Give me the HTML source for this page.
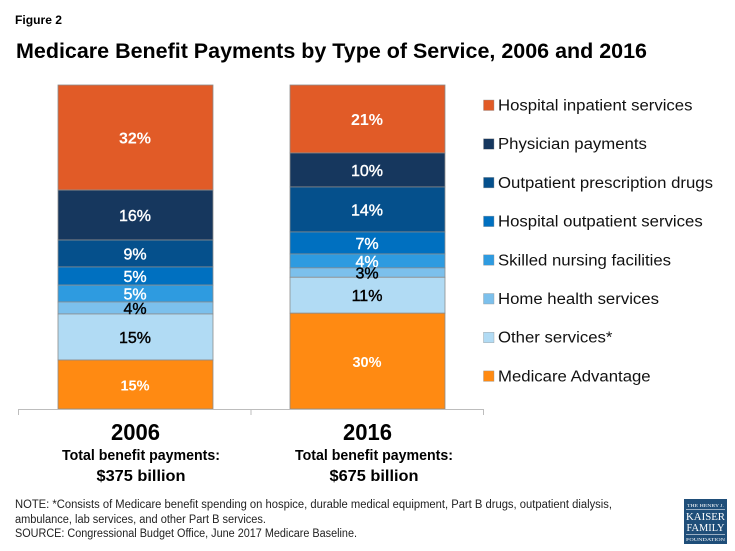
<!DOCTYPE html>
<html lang="en">
<head>
<meta charset="utf-8">
<title>Medicare Benefit Payments by Type of Service, 2006 and 2016</title>
<style>
html,body{margin:0;padding:0;background:#fff;width:735px;height:551px;overflow:hidden}
svg{display:block}
text{font-family:"Liberation Sans",sans-serif}
</style>
</head>
<body>
<svg id="chart" xmlns="http://www.w3.org/2000/svg" width="735" height="551" viewBox="0 0 735 551">
  <rect width="735" height="551" fill="#ffffff"/>
  <text x="15" y="24" font-size="12" font-weight="700" fill="#000" textLength="47" lengthAdjust="spacingAndGlyphs">Figure 2</text>
  <text x="16" y="58" font-size="21.5" font-weight="700" fill="#000" textLength="631" lengthAdjust="spacingAndGlyphs">Medicare Benefit Payments by Type of Service, 2006 and 2016</text>
  <g id="bars"></g>
  <g id="axis"></g>
  <g id="legend"></g>
  <text x="141" y="460" text-anchor="middle" font-size="14.5" font-weight="700" fill="#000" textLength="158" lengthAdjust="spacingAndGlyphs">Total benefit payments:</text>
  <text x="141" y="481" text-anchor="middle" font-size="16" font-weight="700" fill="#000" textLength="89" lengthAdjust="spacingAndGlyphs">$375 billion</text>
  <text x="374" y="460" text-anchor="middle" font-size="14.5" font-weight="700" fill="#000" textLength="158" lengthAdjust="spacingAndGlyphs">Total benefit payments:</text>
  <text x="374" y="481" text-anchor="middle" font-size="16" font-weight="700" fill="#000" textLength="89" lengthAdjust="spacingAndGlyphs">$675 billion</text>
  <text x="15" y="508" font-size="11.5" fill="#222" textLength="597" lengthAdjust="spacingAndGlyphs">NOTE: *Consists of Medicare benefit spending on hospice, durable medical equipment, Part B drugs, outpatient dialysis,</text>
  <text x="15" y="523" font-size="11.5" fill="#222" textLength="251" lengthAdjust="spacingAndGlyphs">ambulance, lab services, and other Part B services.</text>
  <text x="15" y="537" font-size="11.5" fill="#222" textLength="342" lengthAdjust="spacingAndGlyphs">SOURCE: Congressional Budget Office, June 2017 Medicare Baseline.</text>
  <g>
    <rect x="684" y="499" width="43" height="45" fill="#1f4e79"/>
    <text x="705.5" y="507" text-anchor="middle" font-size="4.5" fill="#fff" style="font-family:'Liberation Serif',serif" textLength="37" lengthAdjust="spacingAndGlyphs">THE HENRY J.</text>
    <rect x="686" y="509" width="39" height="0.7" fill="#cfd9e5"/>
    <text x="705.5" y="520" text-anchor="middle" font-size="10.5" fill="#fff" style="font-family:'Liberation Serif',serif" textLength="39" lengthAdjust="spacingAndGlyphs">KAISER</text>
    <text x="705.5" y="531" text-anchor="middle" font-size="10.5" fill="#fff" style="font-family:'Liberation Serif',serif" textLength="38" lengthAdjust="spacingAndGlyphs">FAMILY</text>
    <rect x="686" y="534" width="39" height="0.7" fill="#cfd9e5"/>
    <text x="705.5" y="541" text-anchor="middle" font-size="4.5" fill="#fff" style="font-family:'Liberation Serif',serif" textLength="39" lengthAdjust="spacingAndGlyphs">FOUNDATION</text>
  </g>
</svg>
<script>
var categories = ['2006', '2016'];
var seriesNames = ['Hospital inpatient services', 'Physician payments', 'Outpatient prescription drugs', 'Hospital outpatient services', 'Skilled nursing facilities', 'Home health services', 'Other services*', 'Medicare Advantage'];
var values2006 = [32.4, 15.4, 8.3, 5.6, 5.2, 3.7, 14.2, 15.1];
var values2016 = [21.0, 10.5, 13.9, 6.8, 4.3, 2.9, 11.1, 29.6];
var labels2006 = ['32%', '16%', '9%', '5%', '5%', '4%', '15%', '15%'];
var labels2016 = ['21%', '10%', '14%', '7%', '4%', '3%', '11%', '30%'];

var seriesColors = ['#e15b27', '#16375e', '#05508c', '#0070c0', '#2e9be0', '#7cc0ec', '#b1dbf4', '#ff8a12'];
var labelColors = ['#fff', '#fff', '#fff', '#fff', '#fff', '#000', '#000', '#fff'];
var NS = 'http://www.w3.org/2000/svg';
var plotBottom = 409, plotHeight = 324, barWidth = 155;
function yScale(cumulative) { return plotBottom - cumulative / 100 * plotHeight; }
function xScale(index) { return 135.5 + index * 232; }
function make(parent, tag, attrs, txt) {
  var el = document.createElementNS(NS, tag);
  for (var k in attrs) el.setAttribute(k, attrs[k]);
  if (txt !== undefined) el.textContent = txt;
  parent.appendChild(el);
  return el;
}
var barsGroup = document.getElementById('bars');
var axisGroup = document.getElementById('axis');
var legendGroup = document.getElementById('legend');
var allValues = [values2006, values2016];
var allLabels = [labels2006, labels2016];

categories.forEach(function (cat, c) {
  var vals = allValues[c];
  var total = vals.reduce(function (a, b) { return a + b; }, 0);
  var cum = total;
  vals.forEach(function (v, s) {
    var top = yScale(cum / total * 100);
    var bot = yScale((cum - v) / total * 100);
    cum -= v;
    var r = make(barsGroup, 'rect', {
      x: xScale(c) - barWidth / 2, y: top, width: barWidth, height: bot - top,
      fill: seriesColors[s], stroke: '#8c8c8c', 'stroke-width': 0.8
    });
    
    
  });
  cum = total;
  vals.forEach(function (v, s) {
    var top = yScale(cum / total * 100);
    var bot = yScale((cum - v) / total * 100);
    cum -= v;
    var isBold = s === 7 || s === 0;
    var t = make(barsGroup, 'text', {
      x: xScale(c) - 0.5, y: (top + bot) / 2 + 6, 'text-anchor': 'middle',
      'font-size': s === 7 ? 14.5 : 16, 'font-weight': isBold ? 700 : 400, fill: labelColors[s],
      stroke: isBold ? 'none' : labelColors[s], 'stroke-width': 0.4
    }, allLabels[c][s]);
    
    
  });
  var yearLabel = make(axisGroup, 'text', {
    x: xScale(c), y: 440, 'text-anchor': 'middle', 'font-size': 23, 'font-weight': 700, fill: '#000',
    textLength: 49, lengthAdjust: 'spacingAndGlyphs'
  }, cat);
  
  
});

var axisLine = make(axisGroup, 'line', { x1: 18, x2: 483.5, y1: plotBottom + 0.5, y2: plotBottom + 0.5, stroke: '#bdbdbd', 'stroke-width': 1 });


[0, 1, 2].forEach(function (i) {
  var tx = 18.5 + i * 232.5;
  var tick = make(axisGroup, 'line', { x1: tx, x2: tx, y1: plotBottom, y2: plotBottom + 6, stroke: '#bdbdbd', 'stroke-width': 1 });
  
  
});

seriesNames.forEach(function (name, s) {
  var cy = 105 + s * 38.7;
  var sw = make(legendGroup, 'rect', { x: 483.5, y: cy - 5, width: 10.5, height: 10.5, fill: seriesColors[s], stroke: '#9a9a9a', 'stroke-width': 0.4 });
  
  
  var lt = make(legendGroup, 'text', { x: 498, y: cy + 5.5, 'font-size': 15.5, fill: '#111' }, name);
  
  
  lt.setAttribute('lengthAdjust', 'spacingAndGlyphs');
  lt.setAttribute('textLength', lt.getComputedTextLength() * 1.08);
});
</script>
</body>
</html>
